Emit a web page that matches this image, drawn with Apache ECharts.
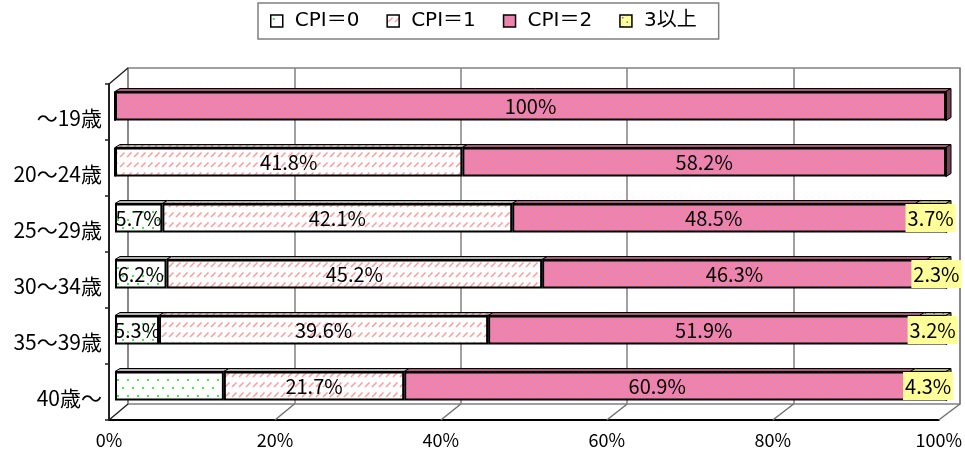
<!DOCTYPE html>
<html><head><meta charset="utf-8">
<script src="https://cdn.jsdelivr.net/npm/echarts@6/dist/echarts.min.js"></script>
<style>html,body{margin:0;padding:0;background:#fff}#c{width:965px;height:457px}</style>
</head><body><div id="c"></div>
<script>
const categories = ['～19歳', '20～24歳', '25～29歳', '30～34歳', '35～39歳', '40歳～'];
const seriesNames = ['CPI＝0', 'CPI＝1', 'CPI＝2', '3以上'];
const cpi0 = [0, 0, 5.7, 6.2, 5.3, 13.1];
const cpi1 = [0, 41.8, 42.1, 45.2, 39.6, 21.7];
const cpi2 = [100, 58.2, 48.5, 46.3, 51.9, 60.9];
const cpi3 = [0, 0, 3.7, 2.3, 3.2, 4.3];
const xTicks = [0, 20, 40, 60, 80, 100];
const unlabeled = [['40歳～', 'CPI＝0']];

function tile(w, h, draw) {
  const c = document.createElement('canvas'); c.width = w; c.height = h;
  const g = c.getContext('2d'); draw(g); return c;
}
const patGreen = tile(10, 16, g => {
  g.fillStyle = '#fff'; g.fillRect(0, 0, 10, 16);
  g.fillStyle = '#40f040'; g.fillRect(2, 3, 2, 2); g.fillRect(7, 11, 2, 2);
});
const patHatch = tile(7, 10, g => {
  g.fillStyle = '#fff'; g.fillRect(0, 0, 7, 10);
  g.strokeStyle = '#ff9c9c'; g.lineWidth = 1.6;
  g.beginPath(); g.moveTo(1, 7); g.lineTo(5.5, 2.5); g.stroke();
});
const patPink = tile(6, 6, g => {
  g.fillStyle = '#ff8090'; g.fillRect(0, 0, 6, 6);
  g.fillStyle = '#c98ae6';
  for (let i = 0; i < 6; i++) { g.fillRect(i, i, 1, 1); g.fillRect(i, 5 - i, 1, 1); }
});
const patYellow = tile(9, 9, g => {
  g.fillStyle = '#ffff99'; g.fillRect(0, 0, 9, 9);
  g.fillStyle = '#7878d0'; g.fillRect(2, 2, 1.5, 1.5); g.fillRect(6.5, 6.5, 1.5, 1.5);
});
const pats = [patGreen, patHatch, patPink, patYellow].map(c => ({ image: c, repeat: 'repeat' }));
const values = [cpi0, cpi1, cpi2, cpi3];

const LABEL_FONT = '"Noto Sans CJK JP", "Noto Sans", sans-serif';

const barSeries = seriesNames.map((name, s) => ({
  name, type: 'bar', stack: 'all', xAxisIndex: 2, yAxisIndex: 2,
  barWidth: 29, z: 3,
  itemStyle: { color: pats[s], borderColor: '#000', borderWidth: 2 },
  label: {
    show: true, position: 'inside', color: '#000', fontSize: 20, fontFamily: LABEL_FONT,
    backgroundColor: s === 3 ? '#ffff99' : 'transparent',
    padding: s === 3 ? [5, 2, 3, 2] : 0,
    formatter: p => p.value + '%'
  },
  data: values[s].map((v, i) => ({
    value: v,
    label: { show: v > 0 && !unlabeled.some(u => u[0] === categories[i] && u[1] === name) }
  }))
}));

// 3D top faces of bar segments
const faceData = [];
categories.forEach((c, i) => {
  let acc = 0;
  let last = -1;
  values.forEach((v, s) => { if (v[i] > 0) last = s; });
  values.forEach((v, s) => {
    if (v[i] > 0) { faceData.push([i, acc, acc + v[i], s, s === last ? 1 : 0]); acc += v[i]; }
  });
});
const DX = 5, DY = 3, HALF = 14.5;
const faceSeries = {
  type: 'custom', xAxisIndex: 2, yAxisIndex: 2, z: 2, silent: true,
  renderItem: (params, api) => {
    const i = api.value(0), a = api.value(1), b = api.value(2), s = api.value(3), end = api.value(4);
    const p0 = api.coord([a, i]), p1 = api.coord([b, i]);
    const yt = p0[1] - HALF, yb = p0[1] + HALF;
    const top = [[p0[0], yt], [p1[0], yt], [p1[0] + DX, yt - DY], [p0[0] + DX, yt - DY]];
    const children = [
      { type: 'polygon', shape: { points: top }, style: { fill: pats[s] } },
      { type: 'polygon', shape: { points: top }, style: { fill: 'rgba(0,0,0,0.3)', stroke: '#000', lineWidth: 1 } }
    ];
    if (end) {
      const side = [[p1[0], yt], [p1[0] + DX, yt - DY], [p1[0] + DX, yb - DY], [p1[0], yb]];
      children.push({ type: 'polygon', shape: { points: side }, style: { fill: pats[s] } });
      children.push({ type: 'polygon', shape: { points: side }, style: { fill: 'rgba(0,0,0,0.5)', stroke: '#000', lineWidth: 1 } });
    }
    return { type: 'group', children };
  },
  data: faceData
};

const chart = echarts.init(document.getElementById('c'), null, { renderer: 'canvas' });
const option = {
  animation: false,
  backgroundColor: '#fff',
  legend: {
    data: seriesNames, left: 258, top: 3,
    padding: [8, 22, 8, 12], itemGap: 27,
    borderColor: '#808080', borderWidth: 1.5,
    icon: 'rect', itemWidth: 12, itemHeight: 12,
    itemStyle: { borderColor: '#000', borderWidth: 1.5 },
    textStyle: { fontSize: 20, color: '#000', padding: [0, 0, 0, 7],
      fontFamily: '"DejaVu Sans", "Noto Sans CJK JP", sans-serif' }
  },
  grid: [
    { left: 128, right: 5, top: 68, bottom: 53, show: true, borderColor: '#808080', borderWidth: 1.5, backgroundColor: 'transparent' },
    { left: 109, right: 23, top: 84, bottom: 37 },
    { left: 115, right: 19, top: 78, bottom: 43 },
    { left: 109, right: 23, top: 90, bottom: 31 }
  ],
  xAxis: [
    { gridIndex: 0, type: 'value', min: 0, max: 100, interval: 20,
      axisLine: { show: false }, axisTick: { show: false }, axisLabel: { show: false },
      splitLine: { show: true, lineStyle: { color: '#808080', width: 1.5 } } },
    { gridIndex: 1, type: 'value', min: 0, max: 100, interval: 20,
      axisLine: { show: true, lineStyle: { color: '#000', width: 2 } },
      axisTick: { show: false },
      splitLine: { show: false },
      axisLabel: { formatter: v => xTicks.includes(v) ? v + '%' : '', fontSize: 18, color: '#000', margin: 11,
        fontFamily: LABEL_FONT } },
    { gridIndex: 2, type: 'value', min: 0, max: 100, show: false },
    { gridIndex: 3, type: 'value', min: 0, max: 100, show: false }
  ],
  yAxis: [
    { gridIndex: 0, type: 'category', data: categories, show: false },
    { gridIndex: 1, type: 'category', data: categories, inverse: true,
      axisLine: { show: true, lineStyle: { color: '#222', width: 2 } },
      axisTick: { show: true, length: 4, lineStyle: { color: '#222', width: 1.5 } },
      axisLabel: { show: false } },
    { gridIndex: 2, type: 'category', data: categories, inverse: true, show: false },
    { gridIndex: 3, type: 'category', data: categories, inverse: true,
      axisLine: { show: false }, axisTick: { show: false },
      axisLabel: { fontSize: 21, color: '#000', margin: 7,
        fontFamily: '"Noto Sans CJK JP", sans-serif' } }
  ],
  series: [faceSeries, ...barSeries]
};
chart.setOption(option);

// 3D frame connectors between front floor/wall and back wall
const lines = [];
function seg(a, b, color, w) {
  lines.push({ type: 'line', silent: true, z: 1, shape: { x1: a[0], y1: a[1], x2: b[0], y2: b[1] },
    style: { stroke: color, lineWidth: w } });
}
const bandF = chart.getModel().getComponent('grid', 1).coordinateSystem.getRect();
const bandB = chart.getModel().getComponent('grid', 0).coordinateSystem.getRect();
xTicks.forEach(t => {
  const xf = chart.convertToPixel({ xAxisIndex: 1 }, t);
  const xb = chart.convertToPixel({ xAxisIndex: 0 }, t);
  seg([xf, bandF.y + bandF.height], [xb, bandB.y + bandB.height], t === 0 ? '#222' : '#707070', 1.5);
});
seg([bandF.x, bandF.y], [bandB.x, bandB.y], '#222', 1.5);
chart.setOption({ graphic: lines });
</script>
</body></html>
